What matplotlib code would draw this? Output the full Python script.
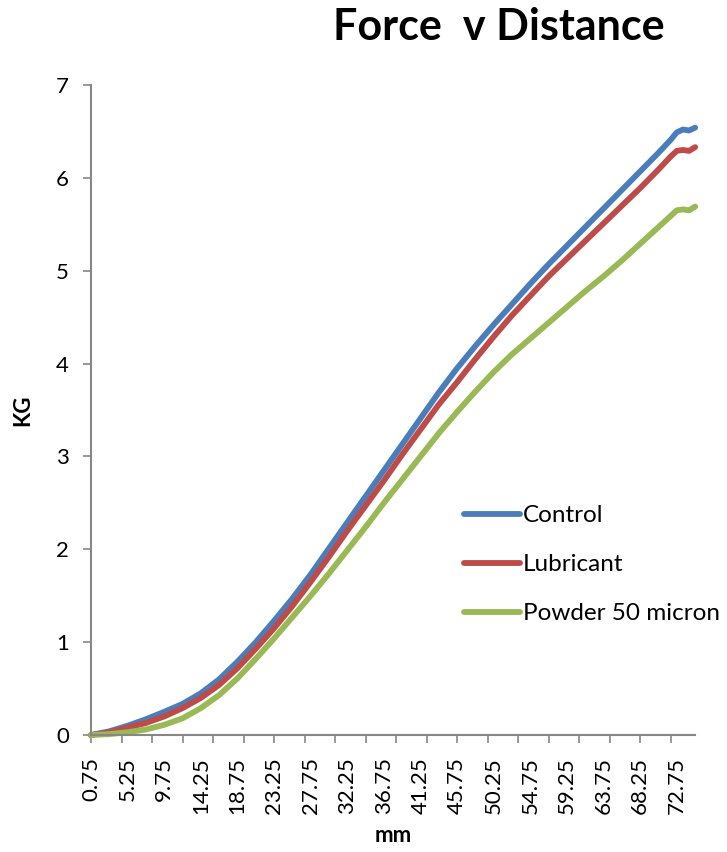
import matplotlib.pyplot as plt

# distance (mm) and load (kg) for the three test conditions
distance_mm = [0.75, 3.0, 5.25, 7.5, 9.75, 12.0, 14.25, 16.5, 18.75, 21.0,
               23.25, 25.5, 27.75, 30.0, 32.25, 34.5, 36.75, 39.0, 41.25, 43.5,
               45.75, 48.0, 50.25, 52.5, 54.75, 57.0, 59.25, 61.5, 63.75, 66.0,
               68.25, 70.5, 71.25, 72.0, 72.75, 73.5, 74.25, 75.0]

control = [0.00, 0.04, 0.10, 0.17, 0.25, 0.335, 0.45, 0.60, 0.79, 1.00,
           1.23, 1.47, 1.73, 2.01, 2.29, 2.57, 2.85, 3.13, 3.41, 3.69,
           3.95, 4.19, 4.42, 4.64, 4.86, 5.07, 5.27, 5.47, 5.67, 5.87,
           6.07, 6.27, 6.34, 6.41, 6.49, 6.52, 6.51, 6.54]

lubricant = [0.00, 0.03, 0.08, 0.13, 0.20, 0.29, 0.40, 0.54, 0.72, 0.93,
             1.15, 1.39, 1.65, 1.92, 2.20, 2.47, 2.74, 3.02, 3.29, 3.56,
             3.80, 4.05, 4.29, 4.52, 4.73, 4.94, 5.13, 5.32, 5.51, 5.70,
             5.89, 6.09, 6.16, 6.23, 6.29, 6.30, 6.29, 6.33]

powder = [0.00, 0.01, 0.03, 0.06, 0.11, 0.18, 0.29, 0.43, 0.61, 0.82,
          1.04, 1.27, 1.50, 1.74, 1.99, 2.24, 2.50, 2.75, 3.00, 3.25,
          3.48, 3.70, 3.91, 4.10, 4.27, 4.44, 4.61, 4.78, 4.94, 5.11,
          5.29, 5.47, 5.53, 5.59, 5.65, 5.66, 5.65, 5.69]

series_names = ["Control", "Lubricant", "Powder 50 micron"]
series_colors = ["#4A7EBB", "#BE4B48", "#98B954"]

tick_pos = [0.75 + 3.75 * k for k in range(20)]
label_pos = [0.75 + 4.5 * k for k in range(17)]
x_labels = ["%.2f" % v for v in label_pos]

plt.rcParams['font.family'] = ['Lato', 'DejaVu Sans']

fig = plt.figure(figsize=(7.27, 8.52), dpi=100)
ax = fig.add_axes([0.1252, 0.1373, 0.831, 0.763])

for vals, name, col in zip([control, lubricant, powder], series_names, series_colors):
    ax.plot(distance_mm, vals, color=col, lw=4.2, label=name,
            solid_capstyle='round', clip_on=False)

ax.set_xlim(0.75, 75.0)
ax.set_ylim(0, 7)
ax.set_yticks(range(8))

# tick marks every 5 readings, labels every 6 readings
ax.xaxis.remove_overlapping_locs = False
ax.set_xticks(tick_pos)
ax.set_xticklabels([])
ax.set_xticks(label_pos, minor=True)
ax.set_xticklabels(x_labels, minor=True, rotation=90, fontsize=16)
ax.tick_params(axis='x', which='major', length=6, width=1.2, color='#868686')
ax.tick_params(axis='x', which='minor', length=0, pad=16)
ax.tick_params(axis='y', length=6, width=1.2, color='#868686', labelsize=16, pad=10)

for side in ['top', 'right']:
    ax.spines[side].set_visible(False)
for side in ['left', 'bottom']:
    ax.spines[side].set_color('#868686')
    ax.spines[side].set_linewidth(1.5)

ax.set_xlabel("mm", fontsize=16, fontweight='bold', labelpad=8)
ax.set_ylabel("KG", fontsize=16, fontweight='bold', labelpad=16)

fig.text(0.686, 0.968, "Force  v Distance", ha='center', va='center',
         fontsize=31, fontweight='bold')

ax.legend(loc='upper left', bbox_to_anchor=(0.621, 0.421),
          bbox_transform=fig.transFigure, frameon=False, fontsize=17.5,
          handlelength=2.3, handletextpad=0.15, labelspacing=1.15, borderpad=0)

fig.savefig("out.png", dpi=100)
